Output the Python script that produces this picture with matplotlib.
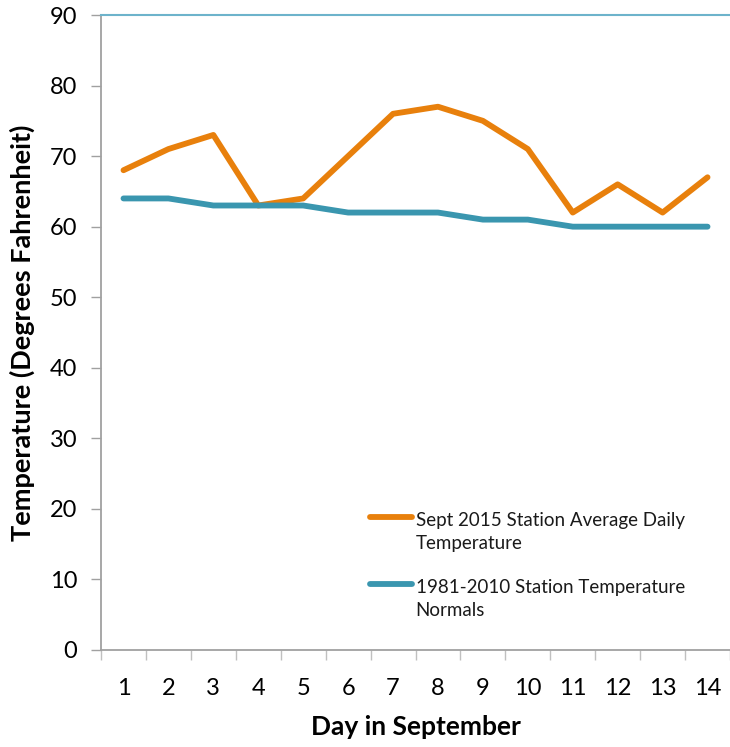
import matplotlib
matplotlib.use("Agg")
import matplotlib.pyplot as plt
import numpy as np

days = [1, 2, 3, 4, 5, 6, 7, 8, 9, 10, 11, 12, 13, 14]
sept_2015 = [68, 71, 73, 63, 64, 70, 76, 77, 75, 71, 62, 66, 62, 67]
normals = [64, 64, 63, 63, 63, 62, 62, 62, 61, 61, 60, 60, 60, 60]
y_ticks = [0, 10, 20, 30, 40, 50, 60, 70, 80, 90]
labels = ['Sept 2015 Station Average Daily\nTemperature',
          '1981-2010 Station Temperature\nNormals']
colors = ['#E8800C', '#3A96AF']

plt.rcParams['font.family'] = ['Lato', 'DejaVu Sans']

fig = plt.figure(figsize=(7.3, 7.47), dpi=100)
ax = fig.add_axes([0.1384, 0.1299, 0.8616, 0.8500])

x = np.arange(len(days))
ax.plot(x, sept_2015, color=colors[0], lw=4.2, solid_capstyle='round')
ax.plot(x, normals, color=colors[1], lw=4.2, solid_capstyle='round')

ax.set_xlim(-0.5, len(days) - 0.5)
ax.set_ylim(0, 90)
ax.set_yticks(y_ticks)
ax.tick_params(axis='y', length=7, width=1, color='#a0a0a0', labelsize=17, pad=10)

# category labels centered, ticks between categories
ax.set_xticks(x)
ax.set_xticklabels([str(d) for d in days])
ax.set_xticks(np.arange(len(days) + 1) - 0.5, minor=True)
ax.tick_params(axis='x', which='major', length=0, labelsize=17, pad=20)
ax.tick_params(axis='x', which='minor', length=7, width=1, color='#c0c0c0')

for s in ['left', 'bottom']:
    ax.spines[s].set_color('#a0a0a0')
    ax.spines[s].set_linewidth(1.3)
ax.spines['right'].set_visible(False)
ax.spines['top'].set_color('#6DB3CB')
ax.spines['top'].set_linewidth(1.5)

ax.set_xlabel('Day in September', fontsize=19, fontweight='bold', labelpad=12)
ax.set_ylabel('Temperature (Degrees Fahrenheit)', fontsize=19.5, fontweight='bold', labelpad=11)

# legend: handle aligned with first text line
tr = ax.transAxes
legend_y = [0.2095, 0.104]
for lab, col, ly in zip(labels, colors, legend_y):
    ax.plot([0.428, 0.495], [ly, ly], color=col, lw=4.2, solid_capstyle='round',
            transform=tr, clip_on=False)
    ax.text(0.500, ly + 0.0085, lab, transform=tr, fontsize=13.5, va='top',
            ha='left', linespacing=1.45, color='#1a1a1a')

fig.savefig('out.png', dpi=100)
